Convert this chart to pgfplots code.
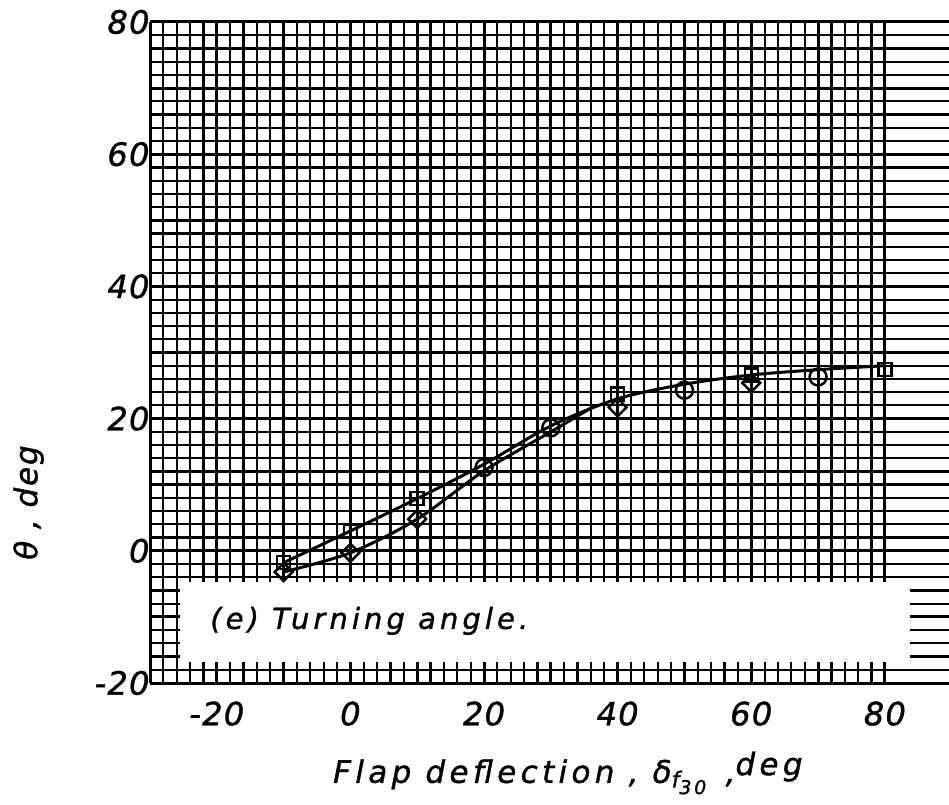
\documentclass[border=0pt]{standalone}
\usepackage{fontspec}
\setmainfont{DejaVu Sans}
% hand-lettering look: slanted, slightly heavy sans with open spacing
\newfontfamily\lettering{DejaVu Sans Oblique}[LetterSpace=14, FakeBold=1.2]
\newfontfamily\tightlettering{DejaVu Sans Oblique}[LetterSpace=6, FakeBold=1.2]
\newfontfamily\numbering{DejaVu Sans Oblique}[LetterSpace=4, FakeBold=1.2]
\usepackage{pgfplots}
\pgfplotsset{compat=1.18}

\begin{document}
\begin{tikzpicture}
\begin{axis}[
  at={(150pt,121pt)}, anchor=south west,
  scale only axis, width=799pt, height=661pt,
  xmin=-30, xmax=89.6, ymin=-20, ymax=80,
  axis lines*=left,
  axis line style={-, line width=2.5pt},
  xtick={-30,-20,...,80},
  xticklabels={,-20,,0,,20,,40,,60,,80},
  ytick={-20,-10,...,80},
  yticklabels={-20,,0,,20,,40,,60,,80},
  minor x tick num=4, minor y tick num=4,
  major tick length=0pt, minor tick length=0pt,
  grid=both,
  major grid style={black, line width=3pt},
  minor grid style={black, line width=2.2pt},
  tick label style={font=\numbering\fontsize{32}{33}\selectfont},
  xticklabel style={yshift=-15pt},
  yticklabel style={xshift=3pt},
  xlabel={Flap deflection ,
    δ\raisebox{-0.15em}{\fontsize{22}{22}\selectfont f\raisebox{-0.3em}{\fontsize{19}{19}\selectfont 30}}\,
    ,\raisebox{0.25em}{deg}},
  ylabel={θ , deg},
  every axis x label/.style={at={(axis description cs:0.523,-0.151)}, anchor=base,
    font=\lettering\fontsize{31}{33}\selectfont},
  every axis y label/.style={at={(axis description cs:-0.152,0.273)}, anchor=center, rotate=90,
    font=\tightlettering\fontsize{31}{33}\selectfont},
]
  % faired curves: upper through squares, lower through diamonds, joined above 35 deg
  \addplot[black, line width=3pt, smooth, tension=0.5] coordinates {
    (-10,-1.8) (0,3) (10,7.9) (20,13.1) (30,18.9) (40,23.0)
    (50,25.2) (60,26.6) (70,27.4) (80,28.0)};
  \addplot[black, line width=3pt, smooth, tension=0.5] coordinates {
    (-10,-3.2) (0,-0.3) (10,4.8) (20,12.1) (30,18.0) (36,21.6)};
  % squares
  \addplot[only marks, mark=square, mark size=6.5pt,
    mark options={black, line width=2.5pt, fill=none}] coordinates {
    (-10,-1.8) (0,3) (10,7.9) (40,23.7) (60,26.6) (80,27.4)};
  % diamonds
  \addplot[only marks, mark=square, mark size=6.3pt,
    mark options={black, line width=2.5pt, fill=none, rotate=45}] coordinates {
    (-10,-3.2) (0,-0.3) (10,4.8) (40,21.7) (60,25.4)};
  % circles
  \addplot[only marks, mark=o, mark size=8.5pt,
    mark options={black, line width=2.5pt, fill=none}] coordinates {
    (20,12.6) (30,18.6) (50,24.3) (70,26.3)};
  % caption panel
  \fill[white] (axis cs:-25.5,-16.8) rectangle (axis cs:83.8,-4.7);
  \node[anchor=west, inner sep=0pt, font=\lettering\fontsize{29}{31}\selectfont]
    at (axis cs:-21,-10.6) {(e) Turning angle.};
\end{axis}
\pgfresetboundingbox
\path[use as bounding box] (0,0) rectangle (949pt,804pt);
\end{tikzpicture}
\end{document}
